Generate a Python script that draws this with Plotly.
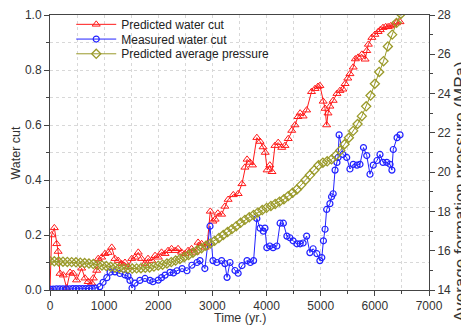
import plotly.graph_objects as go

# Predicted water cut (red)
red_t = [0, 30, 80, 123, 150, 185, 245, 308, 370, 430, 490, 585, 646, 705, 770, 800, 862, 890,
         955, 1015, 1075, 1140, 1200, 1260, 1320, 1385, 1445, 1510, 1570, 1630, 1690, 1755, 1810,
         1880, 1940, 2000, 2060, 2125, 2180, 2245, 2310, 2365, 2430, 2495, 2550, 2615, 2680, 2735,
         2800, 2865, 2905, 2960, 3010, 3050, 3100, 3170, 3230, 3290, 3385, 3475, 3545, 3600, 3640,
         3695, 3740, 3820, 3880, 3935, 3975, 4010, 4060, 4100, 4155, 4215, 4280, 4340, 4400, 4465,
         4525, 4580, 4620, 4675, 4740, 4830, 4895, 4950, 4985, 5045, 5080, 5110, 5135, 5170, 5230,
         5300, 5355, 5410, 5450, 5500, 5540, 5600, 5640, 5690, 5760, 5820, 5850, 5880, 5945, 6000,
         6060, 6100, 6150, 6200, 6245, 6290, 6340, 6400, 6465]
red_wc = [0.0, 0.2, 0.226, 0.168, 0.14, 0.06, 0.054, 0.007, 0.064, 0.06, 0.036, 0.079, 0.043, 0.03,
          0.025, 0.043, 0.071, 0.114, 0.119, 0.132, 0.136, 0.155, 0.114, 0.107, 0.096, 0.1, 0.083,
          0.114, 0.119, 0.137, 0.114, 0.096, 0.114, 0.107, 0.125, 0.119, 0.137, 0.132, 0.143, 0.15,
          0.143, 0.15, 0.137, 0.132, 0.143, 0.15, 0.137, 0.173, 0.168, 0.155, 0.168, 0.286, 0.25,
          0.257, 0.279, 0.275, 0.304, 0.329, 0.346, 0.35, 0.386, 0.446, 0.475, 0.464, 0.454, 0.554,
          0.54, 0.52, 0.5, 0.436, 0.454, 0.43, 0.525, 0.536, 0.518, 0.525, 0.55, 0.58, 0.6, 0.63,
          0.643, 0.632, 0.654, 0.721, 0.732, 0.74, 0.743, 0.686, 0.66, 0.6, 0.643, 0.668, 0.689,
          0.714, 0.725, 0.73, 0.75, 0.77, 0.786, 0.81, 0.84, 0.846, 0.857, 0.839, 0.87, 0.893, 0.918,
          0.929, 0.939, 0.946, 0.954, 0.957, 0.957, 0.96, 0.964, 0.971, 0.975]

# Measured water cut (blue)
blue_t = [0, 60, 120, 180, 240, 300, 360, 420, 480, 540, 600, 660, 720, 780, 840, 920, 980, 1050,
          1110, 1200, 1290, 1385, 1440, 1478, 1515, 1570, 1660, 1755, 1847, 1900, 2000, 2060, 2125,
          2216, 2280, 2345, 2440, 2530, 2620, 2715, 2770, 2860, 2955, 3010, 3080, 3170, 3230, 3270,
          3325, 3417, 3475, 3546, 3639, 3700, 3760, 3820, 3880, 3940, 3970, 4005, 4060, 4120, 4190,
          4250, 4310, 4375, 4430, 4490, 4560, 4620, 4675, 4740, 4800, 4860, 4930, 4985, 5020, 5050,
          5080, 5110, 5170, 5200, 5230, 5265, 5300, 5320, 5340, 5410, 5480, 5540, 5600, 5670, 5725,
          5790, 5850, 5910, 5970, 6040, 6095, 6150, 6220, 6280, 6315, 6340, 6410, 6465]
blue_wc = [0.003, 0.003, 0.004, 0.004, 0.004, 0.004, 0.004, 0.005, 0.005, 0.005, 0.005, 0.005,
           0.006, 0.006, 0.007, 0.012, 0.028, 0.045, 0.065, 0.066, 0.06, 0.055, 0.05, 0.035, 0.007,
           0.025, 0.035, 0.042, 0.035, 0.03, 0.036, 0.045, 0.054, 0.064, 0.062, 0.07, 0.078, 0.07,
           0.09, 0.1, 0.107, 0.078, 0.232, 0.107, 0.1, 0.107, 0.096, 0.046, 0.1, 0.071, 0.061, 0.089,
           0.107, 0.1, 0.107, 0.26, 0.225, 0.214, 0.225, 0.154, 0.16, 0.154, 0.16, 0.243, 0.243,
           0.196, 0.19, 0.179, 0.168, 0.168, 0.171, 0.196, 0.136, 0.15, 0.132, 0.107, 0.118, 0.179,
           0.221, 0.293, 0.314, 0.339, 0.35, 0.436, 0.464, 0.482, 0.564, 0.493, 0.482, 0.44, 0.457,
           0.454, 0.457, 0.518, 0.489, 0.421, 0.454, 0.471, 0.493, 0.464, 0.464, 0.457, 0.436, 0.511,
           0.554, 0.564]

# Predicted average pressure (olive, MPa, right axis)
press_t = list(range(0, 6481, 80))
press_mpa = [15.47, 15.46, 15.45, 15.44, 15.43, 15.42, 15.41, 15.39, 15.37, 15.35, 15.32, 15.28,
             15.25, 15.22, 15.18, 15.15, 15.12, 15.1, 15.09, 15.09, 15.1, 15.11, 15.13, 15.15,
             15.19, 15.24, 15.29, 15.35, 15.42, 15.5, 15.58, 15.68, 15.78, 15.9, 16.02, 16.13,
             16.25, 16.37, 16.5, 16.65, 16.8, 16.95, 17.1, 17.25, 17.42, 17.57, 17.7, 17.82, 17.95,
             18.07, 18.18, 18.28, 18.38, 18.5, 18.62, 18.78, 18.95, 19.12, 19.35, 19.6, 19.85, 20.1,
             20.35, 20.48, 20.55, 20.65, 20.85, 21.1, 21.42, 21.75, 22.1, 22.45, 22.85, 23.35, 23.9,
             24.5, 25.1, 25.65, 26.4, 27.0, 27.6, 28.05]

RED = "#ff1a1a"
BLUE = "#2222ff"
OLIVE = "#9a9a2a"
FONT = "Liberation Sans, Arial, sans-serif"

fig = go.Figure()
fig.add_trace(go.Scatter(
    x=red_t, y=red_wc, mode="lines+markers", name="Predicted water cut", legend="legend",
    line=dict(color=RED, width=1),
    marker=dict(symbol="triangle-up-open", size=7, color=RED, line=dict(width=1, color=RED)),
))
fig.add_trace(go.Scatter(
    x=blue_t, y=blue_wc, mode="lines+markers", name="Measured water cut", legend="legend2",
    line=dict(color=BLUE, width=1),
    marker=dict(symbol="circle-open", size=6, color=BLUE, line=dict(width=1.2, color=BLUE)),
))
fig.add_trace(go.Scatter(
    x=press_t, y=press_mpa, mode="lines+markers", name="Predicted average pressure",
    legend="legend3", yaxis="y2", cliponaxis=True,
    line=dict(color=OLIVE, width=1),
    marker=dict(symbol="diamond-open", size=7, color=OLIVE, line=dict(width=1.3, color=OLIVE)),
))

axis_common = dict(
    showline=True, linecolor="#444", linewidth=1, ticks="outside", ticklen=5,
    tickcolor="#444", tickfont=dict(size=12, color="#333", family=FONT),
    zeroline=False, automargin=False,
)

def leg(ypx):
    return dict(x=0.056, y=(290 - ypx) / 280, xanchor="left", yanchor="middle",
                bgcolor="rgba(0,0,0,0)", font=dict(size=12, color="#222", family=FONT),
                itemwidth=40, tracegroupgap=0)

fig.update_layout(
    width=461, height=331,
    margin=dict(l=50, r=32, t=10, b=41),
    paper_bgcolor="white", plot_bgcolor="white",
    font=dict(family=FONT, size=12, color="#333"),
    showlegend=True,
    legend=leg(19.5), legend2=leg(34.5), legend3=leg(49.5),
    xaxis=dict(
        range=[0, 7000], dtick=1000, mirror=True,
        showgrid=True, gridcolor="#d8d8d8", griddash="dot", gridwidth=1,
        minor=dict(dtick=500, ticks="outside", ticklen=3, tickcolor="#444",
                   showgrid=True, gridcolor="#d8d8d8", griddash="dot"),
        **axis_common,
    ),
    yaxis=dict(
        range=[0, 1.0], dtick=0.2, tickformat=".1f",
        showgrid=True, gridcolor="#d8d8d8", griddash="dot", gridwidth=1,
        minor=dict(dtick=0.1, ticks="outside", ticklen=3, tickcolor="#444",
                   showgrid=True, gridcolor="#d8d8d8", griddash="dot"),
        **axis_common,
    ),
    yaxis2=dict(
        range=[14, 28], dtick=2, overlaying="y", side="right", showgrid=False,
        minor=dict(dtick=1, ticks="outside", ticklen=3, tickcolor="#444"),
        **axis_common,
    ),
    annotations=[
        dict(text="Average formation pressure (MPa)", xref="paper", yref="paper",
             x=(461 - 50) / 379, y=(290 - 190) / 280, xanchor="center", yanchor="middle",
             textangle=-90, showarrow=False, font=dict(size=17, color="#333", family=FONT)),
        dict(text="Water cut", xref="paper", yref="paper",
             x=(15 - 50) / 379, y=0.5, xanchor="center", yanchor="middle", textangle=-90,
             showarrow=False, font=dict(size=12.5, color="#333", family=FONT)),
        dict(text="Time (yr.)", xref="paper", yref="paper",
             x=0.5, y=(290 - 318) / 280, xanchor="center", yanchor="middle",
             showarrow=False, font=dict(size=12.5, color="#333", family=FONT)),
    ],
)

fig.write_html("out.html")
